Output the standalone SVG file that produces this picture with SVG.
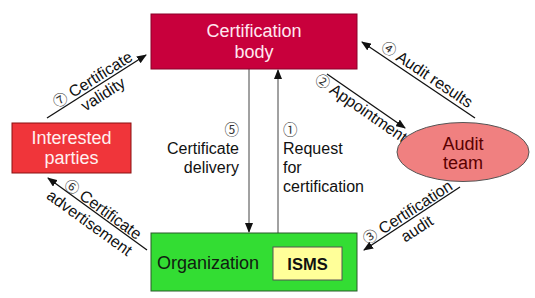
<svg xmlns="http://www.w3.org/2000/svg" width="535" height="298" viewBox="0 0 535 298">
<style>
text{font-family:"Liberation Sans","DejaVu Sans",sans-serif;}
.t{font-size:18px;}
.l{font-size:16px;fill:#111;}
.n{font-size:14.5px;font-family:"Noto Sans CJK JP","DejaVu Sans",sans-serif;fill:#333;}
.c{stroke:#111;stroke-width:1.3;fill:none;marker-end:url(#ah);}
.v{stroke:#444;stroke-width:1;fill:none;marker-end:url(#ah);}
</style>
<defs>
<marker id="ah" markerWidth="10" markerHeight="8" refX="9" refY="4" orient="auto" markerUnits="userSpaceOnUse">
<path d="M0,0 L10,4 L0,8 Z" fill="#111"/>
</marker>
</defs>
<rect width="535" height="298" fill="#fff"/>
<g id="connectors">
<line class="v" x1="249" y1="69" x2="249" y2="232"/>
<line class="v" x1="278" y1="233" x2="278" y2="70"/>
<line class="c" x1="475" y1="118" x2="362" y2="42"/>
<line class="c" x1="327" y1="74" x2="405" y2="128"/>
<line class="c" x1="460" y1="187" x2="364" y2="250"/>
<line class="c" x1="47" y1="118" x2="146" y2="55"/>
<line class="c" x1="147" y1="250" x2="48" y2="178"/>
</g>
<g id="labels">
<text class="n" x="239" y="135" text-anchor="end">⑤</text>
<text class="l" x="239" y="154" text-anchor="end">Certificate</text>
<text class="l" x="239" y="173" text-anchor="end">delivery</text>
<text class="n" x="283" y="135">①</text>
<text class="l" x="283" y="154">Request</text>
<text class="l" x="283" y="173">for</text>
<text class="l" x="283" y="192">certification</text>
<g transform="translate(97,86.5) rotate(-32.2)">
<text class="l" x="0" y="-3" text-anchor="middle"><tspan class="n">⑦</tspan> Certificate</text>
<text class="l" x="1" y="15" text-anchor="middle">validity</text>
</g>
<g transform="translate(366,101) rotate(34.7)">
<text class="l" x="0" y="14" text-anchor="middle"><tspan class="n">②</tspan> Appointment</text>
</g>
<g transform="translate(418.5,80) rotate(33.9)">
<text class="l" x="4" y="-4" text-anchor="middle"><tspan class="n">④</tspan> Audit results</text>
</g>
<g transform="translate(411.5,218.5) rotate(-33)">
<text class="l" x="0" y="-2" text-anchor="middle"><tspan class="n">③</tspan> Certification</text>
<text class="l" x="-1" y="17" text-anchor="middle">audit</text>
</g>
<g transform="translate(97,214) rotate(35.8)">
<text class="l" x="2" y="-2" text-anchor="middle"><tspan class="n">⑥</tspan> Certificate</text>
<text class="l" x="-1" y="17" text-anchor="middle">advertisement</text>
</g>
</g>
<g id="certification-body">
<rect x="151" y="14" width="206" height="55" fill="#C8003C" stroke="#8a0028" stroke-width="1"/>
<text class="t" x="254" y="37" text-anchor="middle" fill="#FFE8F0">Certification</text>
<text class="t" x="254" y="58" text-anchor="middle" fill="#FFE8F0">body</text>
</g>
<g id="interested-parties">
<rect x="12" y="123" width="119" height="50" fill="#F0353A" stroke="#8a1010" stroke-width="1"/>
<text class="t" x="71.5" y="144" text-anchor="middle" fill="#FFF0F0">Interested</text>
<text class="t" x="71.5" y="164" text-anchor="middle" fill="#FFF0F0">parties</text>
</g>
<g id="audit-team">
<ellipse cx="463" cy="152" rx="66" ry="29.5" fill="#F08080" stroke="#555" stroke-width="1"/>
<text class="t" x="463" y="150" text-anchor="middle" fill="#5a0000">Audit</text>
<text class="t" x="463" y="169" text-anchor="middle" fill="#5a0000">team</text>
</g>
<g id="organization">
<rect x="151" y="233" width="206" height="58" fill="#33DD33" stroke="#2a5a2a" stroke-width="1"/>
<text class="t" x="157" y="269" fill="#102010">Organization</text>
</g>
<g id="isms">
<rect x="273" y="247" width="69" height="33" fill="#FFFF99" stroke="#555" stroke-width="1"/>
<text x="307.5" y="270" text-anchor="middle" font-size="16.5" font-weight="bold" fill="#111">ISMS</text>
</g>
</svg>
